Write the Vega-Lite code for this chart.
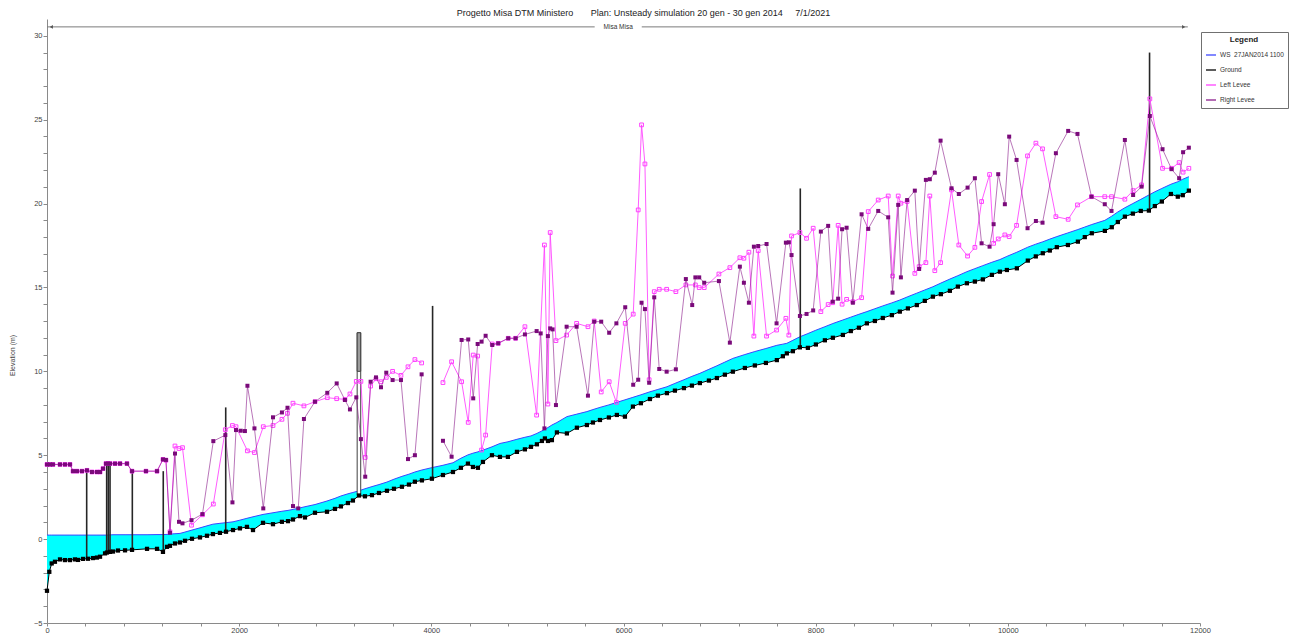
{
  "$schema": "https://vega.github.io/schema/vega-lite/v6.json",
  "autosize": {"type": "none"},
  "padding": {"left": 47, "top": 19, "right": 90, "bottom": 12},
  "width": 1153,
  "height": 604,
  "background": "white",
  "title": {
    "text": "Progetto Misa DTM Ministero\u00a0\u00a0\u00a0\u00a0\u00a0\u00a0\u00a0Plan: Unsteady simulation 20 gen - 30 gen 2014\u00a0\u00a0\u00a0\u00a0\u00a07/1/2021",
    "anchor": "middle",
    "dx": 20,
    "offset": 1,
    "fontSize": 9,
    "fontWeight": "normal",
    "font": "Liberation Sans",
    "color": "#222222"
  },
  "config": {
    "font": "Liberation Sans",
    "view": {"stroke": null},
    "axis": {
      "grid": false,
      "domainColor": "#8a8a8a",
      "tickColor": "#8a8a8a",
      "labelColor": "#444444",
      "labelFontSize": 7.5,
      "labelOverlap": false,
      "labelFlush": false,
      "tickSize": 4,
      "labelPadding": 1,
      "titleFontSize": 7,
      "titleFontWeight": "normal",
      "titleColor": "#444444"
    },
    "legend": {
      "orient": "none",
      "legendX": 1154,
      "legendY": 13,
      "strokeColor": "#707070",
      "fillColor": "white",
      "padding": 4,
      "title": "Legend",
      "titleFontSize": 8,
      "titleFontWeight": "bold",
      "titleAnchor": "middle",
      "titleColor": "#222222",
      "labelFontSize": 6.5,
      "labelOffset": 3,
      "labelColor": "#333333",
      "labelLimit": 120,
      "symbolType": "stroke",
      "symbolSize": 100,
      "symbolStrokeWidth": 1.5,
      "rowPadding": 5
    }
  },
  "datasets": {
    "gw": [
      {"s": 0, "g": -3.08, "w": 0.24}, {"s": 24, "g": -1.95, "w": 0.24}, {"s": 49, "g": -1.45, "w": 0.24},
      {"s": 83, "g": -1.35, "w": 0.24}, {"s": 135, "g": -1.21, "w": 0.24}, {"s": 187, "g": -1.25, "w": 0.24},
      {"s": 239, "g": -1.25, "w": 0.24}, {"s": 291, "g": -1.21, "w": 0.24}, {"s": 323, "g": -1.24, "w": 0.24},
      {"s": 375, "g": -1.18, "w": 0.24}, {"s": 427, "g": -1.17, "w": 0.24}, {"s": 479, "g": -1.13, "w": 0.24},
      {"s": 520, "g": -1.1, "w": 0.24}, {"s": 552, "g": -1.05, "w": 0.24}, {"s": 604, "g": -0.85, "w": 0.24},
      {"s": 624, "g": -0.8, "w": 0.24}, {"s": 656, "g": -0.76, "w": 0.25}, {"s": 687, "g": -0.74, "w": 0.26},
      {"s": 739, "g": -0.68, "w": 0.26}, {"s": 812, "g": -0.67, "w": 0.26}, {"s": 885, "g": -0.64, "w": 0.26},
      {"s": 1041, "g": -0.58, "w": 0.26}, {"s": 1145, "g": -0.58, "w": 0.27}, {"s": 1207, "g": -0.76, "w": 0.27},
      {"s": 1249, "g": -0.46, "w": 0.28}, {"s": 1280, "g": -0.4, "w": 0.3}, {"s": 1332, "g": -0.26, "w": 0.32},
      {"s": 1384, "g": -0.2, "w": 0.34}, {"s": 1436, "g": -0.1, "w": 0.42}, {"s": 1509, "g": 0.02, "w": 0.54},
      {"s": 1592, "g": 0.1, "w": 0.67}, {"s": 1665, "g": 0.2, "w": 0.79}, {"s": 1727, "g": 0.3, "w": 0.89},
      {"s": 1800, "g": 0.37, "w": 0.94}, {"s": 1863, "g": 0.44, "w": 0.98}, {"s": 1936, "g": 0.54, "w": 1.03},
      {"s": 2008, "g": 0.64, "w": 1.13}, {"s": 2081, "g": 0.73, "w": 1.24}, {"s": 2144, "g": 0.54, "w": 1.33},
      {"s": 2248, "g": 0.97, "w": 1.47}, {"s": 2352, "g": 0.89, "w": 1.57}, {"s": 2445, "g": 1.03, "w": 1.66},
      {"s": 2508, "g": 1.07, "w": 1.71}, {"s": 2560, "g": 1.17, "w": 1.77}, {"s": 2633, "g": 1.37, "w": 1.86},
      {"s": 2685, "g": 1.29, "w": 1.93}, {"s": 2789, "g": 1.57, "w": 2.06}, {"s": 2914, "g": 1.63, "w": 2.27},
      {"s": 2997, "g": 1.8, "w": 2.43}, {"s": 3059, "g": 1.95, "w": 2.57}, {"s": 3132, "g": 2.15, "w": 2.7},
      {"s": 3184, "g": 2.3, "w": 2.78}, {"s": 3247, "g": 2.6, "w": 2.88}, {"s": 3309, "g": 2.55, "w": 3.0},
      {"s": 3382, "g": 2.62, "w": 3.13}, {"s": 3455, "g": 2.75, "w": 3.25}, {"s": 3538, "g": 2.88, "w": 3.4},
      {"s": 3611, "g": 3.0, "w": 3.57}, {"s": 3694, "g": 3.12, "w": 3.74}, {"s": 3767, "g": 3.25, "w": 3.87},
      {"s": 3829, "g": 3.42, "w": 4.0}, {"s": 3902, "g": 3.5, "w": 4.12}, {"s": 4006, "g": 3.6, "w": 4.26},
      {"s": 4121, "g": 3.82, "w": 4.4}, {"s": 4225, "g": 4.0, "w": 4.55}, {"s": 4308, "g": 4.25, "w": 4.82},
      {"s": 4381, "g": 4.5, "w": 5.02}, {"s": 4433, "g": 4.3, "w": 5.12}, {"s": 4485, "g": 4.25, "w": 5.2},
      {"s": 4537, "g": 4.6, "w": 5.3}, {"s": 4631, "g": 5.0, "w": 5.5}, {"s": 4714, "g": 4.9, "w": 5.7},
      {"s": 4797, "g": 4.9, "w": 5.8}, {"s": 4891, "g": 5.2, "w": 5.95}, {"s": 4974, "g": 5.35, "w": 6.07},
      {"s": 5037, "g": 5.5, "w": 6.15}, {"s": 5099, "g": 5.65, "w": 6.3}, {"s": 5151, "g": 5.85, "w": 6.45},
      {"s": 5182, "g": 6.0, "w": 6.55}, {"s": 5214, "g": 5.85, "w": 6.65}, {"s": 5255, "g": 5.9, "w": 6.8},
      {"s": 5307, "g": 6.36, "w": 6.95}, {"s": 5411, "g": 6.3, "w": 7.3}, {"s": 5515, "g": 6.64, "w": 7.45},
      {"s": 5619, "g": 6.8, "w": 7.6}, {"s": 5682, "g": 6.95, "w": 7.72}, {"s": 5755, "g": 7.1, "w": 7.85},
      {"s": 5848, "g": 7.25, "w": 8.0}, {"s": 5931, "g": 7.4, "w": 8.15}, {"s": 6015, "g": 7.3, "w": 8.3},
      {"s": 6098, "g": 7.9, "w": 8.45}, {"s": 6181, "g": 8.1, "w": 8.6}, {"s": 6275, "g": 8.35, "w": 8.78},
      {"s": 6358, "g": 8.55, "w": 8.92}, {"s": 6452, "g": 8.7, "w": 9.08}, {"s": 6535, "g": 8.85, "w": 9.28},
      {"s": 6629, "g": 9.0, "w": 9.5}, {"s": 6712, "g": 9.15, "w": 9.7}, {"s": 6795, "g": 9.3, "w": 9.88},
      {"s": 6889, "g": 9.45, "w": 10.12}, {"s": 6972, "g": 9.6, "w": 10.33}, {"s": 7055, "g": 9.8, "w": 10.55},
      {"s": 7138, "g": 9.98, "w": 10.77}, {"s": 7263, "g": 10.2, "w": 11.0}, {"s": 7367, "g": 10.35, "w": 11.18},
      {"s": 7482, "g": 10.5, "w": 11.36}, {"s": 7596, "g": 10.67, "w": 11.55}, {"s": 7659, "g": 10.9, "w": 11.62},
      {"s": 7700, "g": 11.07, "w": 11.67}, {"s": 7763, "g": 11.2, "w": 11.85}, {"s": 7836, "g": 11.43, "w": 12.06},
      {"s": 7919, "g": 11.4, "w": 12.25}, {"s": 8002, "g": 11.6, "w": 12.45}, {"s": 8096, "g": 11.85, "w": 12.66},
      {"s": 8179, "g": 12.0, "w": 12.85}, {"s": 8283, "g": 12.17, "w": 13.06}, {"s": 8366, "g": 12.4, "w": 13.23},
      {"s": 8450, "g": 12.6, "w": 13.4}, {"s": 8533, "g": 12.86, "w": 13.56}, {"s": 8616, "g": 13.0, "w": 13.73},
      {"s": 8699, "g": 13.18, "w": 13.9}, {"s": 8793, "g": 13.35, "w": 14.08}, {"s": 8876, "g": 13.56, "w": 14.25},
      {"s": 8960, "g": 13.75, "w": 14.45}, {"s": 9053, "g": 13.95, "w": 14.66}, {"s": 9136, "g": 14.2, "w": 14.85},
      {"s": 9220, "g": 14.45, "w": 15.04}, {"s": 9303, "g": 14.6, "w": 15.26}, {"s": 9397, "g": 14.8, "w": 15.5},
      {"s": 9480, "g": 15.05, "w": 15.7}, {"s": 9574, "g": 15.25, "w": 15.94}, {"s": 9657, "g": 15.35, "w": 16.12},
      {"s": 9740, "g": 15.48, "w": 16.3}, {"s": 9834, "g": 15.75, "w": 16.5}, {"s": 9917, "g": 15.94, "w": 16.66},
      {"s": 9990, "g": 16.04, "w": 16.85}, {"s": 10094, "g": 16.14, "w": 17.1}, {"s": 10208, "g": 16.6, "w": 17.4},
      {"s": 10291, "g": 16.85, "w": 17.58}, {"s": 10364, "g": 17.04, "w": 17.72}, {"s": 10437, "g": 17.2, "w": 17.88},
      {"s": 10510, "g": 17.4, "w": 18.03}, {"s": 10625, "g": 17.53, "w": 18.25}, {"s": 10729, "g": 17.73, "w": 18.45},
      {"s": 10801, "g": 18.0, "w": 18.6}, {"s": 10874, "g": 18.23, "w": 18.75}, {"s": 11010, "g": 18.37, "w": 19.0},
      {"s": 11082, "g": 18.59, "w": 19.25}, {"s": 11145, "g": 18.9, "w": 19.5}, {"s": 11218, "g": 19.22, "w": 19.75},
      {"s": 11301, "g": 19.4, "w": 20.0}, {"s": 11384, "g": 19.56, "w": 20.25}, {"s": 11468, "g": 19.58, "w": 20.51},
      {"s": 11530, "g": 19.85, "w": 20.7}, {"s": 11603, "g": 20.12, "w": 20.9}, {"s": 11697, "g": 20.57, "w": 21.15},
      {"s": 11769, "g": 20.41, "w": 21.3}, {"s": 11821, "g": 20.5, "w": 21.45}, {"s": 11884, "g": 20.77, "w": 21.6}
    ],
    "lev": [
      {"s": 0, "l": 4.45, "r": 4.45, "k": 1}, {"s": 31, "l": 4.45, "r": 4.45, "k": 1}, {"s": 62, "l": 4.45, "r": 4.45, "k": 1},
      {"s": 135, "l": 4.45, "r": 4.45, "k": 1}, {"s": 187, "l": 4.45, "r": 4.45, "k": 1}, {"s": 239, "l": 4.45, "r": 4.45, "k": 1},
      {"s": 271, "l": 4.05, "r": 4.05, "k": 1}, {"s": 312, "l": 4.05, "r": 4.05, "k": 1}, {"s": 364, "l": 4.05, "r": 4.05, "k": 1},
      {"s": 416, "l": 4.1, "r": 4.1, "k": 1}, {"s": 468, "l": 4.0, "r": 4.0, "k": 1}, {"s": 520, "l": 4.0, "r": 4.0, "k": 1},
      {"s": 552, "l": 4.0, "r": 4.0, "k": 1}, {"s": 583, "l": 4.2, "r": 4.2, "k": 1}, {"s": 614, "l": 4.5, "r": 4.5, "k": 1},
      {"s": 635, "l": 4.5, "r": 4.5, "k": 1}, {"s": 656, "l": 4.5, "r": 4.5, "k": 1}, {"s": 708, "l": 4.5, "r": 4.5, "k": 1},
      {"s": 760, "l": 4.5, "r": 4.5, "k": 1}, {"s": 832, "l": 4.5, "r": 4.5, "k": 1}, {"s": 885, "l": 4.05, "r": 4.05, "k": 1},
      {"s": 1030, "l": 4.05, "r": 4.05, "k": 1}, {"s": 1145, "l": 4.05, "r": 4.05, "k": 1}, {"s": 1207, "l": 4.75, "r": 4.75, "k": 1},
      {"s": 1238, "l": 4.7, "r": 4.72, "k": 1}, {"s": 1280, "l": 0.44, "r": 0.38, "k": 1}, {"s": 1332, "l": 5.55, "r": 5.1, "k": 1},
      {"s": 1374, "l": 5.4, "r": 1.03, "k": 1}, {"s": 1410, "l": 5.45, "r": 0.94, "k": 1}, {"s": 1504, "l": 0.83, "r": 1.13, "k": 1},
      {"s": 1618, "l": 1.45, "r": 1.49, "k": 1}, {"s": 1731, "l": 2.09, "r": 5.84, "k": 1}, {"s": 1856, "l": 6.52, "r": 6.2, "k": 1},
      {"s": 1930, "l": 6.77, "r": 2.19, "k": 1}, {"s": 1967, "l": 6.7, "r": 6.5, "k": 1}, {"s": 2016, "l": null, "r": 6.46, "k": 1},
      {"s": 2060, "l": null, "r": 6.44, "k": 1}, {"s": 2086, "l": 5.26, "r": 9.14, "k": 1}, {"s": 2159, "l": 5.16, "r": 6.6, "k": 1},
      {"s": 2251, "l": 6.7, "r": 1.83, "k": 1}, {"s": 2352, "l": 6.77, "r": 7.26, "k": 1}, {"s": 2445, "l": 7.14, "r": 7.55, "k": 1},
      {"s": 2503, "l": 7.5, "r": 7.83, "k": 1}, {"s": 2560, "l": 8.1, "r": 1.97, "k": 1}, {"s": 2615, "l": null, "r": 1.83, "k": 1},
      {"s": 2674, "l": 7.94, "r": 7.16, "k": 1}, {"s": 2789, "l": 8.19, "r": 8.19, "k": 1}, {"s": 2917, "l": 8.43, "r": 8.72, "k": 1},
      {"s": 3015, "l": 8.37, "r": 9.28, "k": 1}, {"s": 3101, "l": 8.33, "r": 8.29, "k": 1}, {"s": 3153, "l": 8.65, "r": 7.73, "k": 1},
      {"s": 3219, "l": 9.4, "r": 8.45, "k": 1}, {"s": 3267, "l": 9.4, "r": 5.96, "k": 1}, {"s": 3312, "l": 4.87, "r": 3.72, "k": 1},
      {"s": 3368, "l": 9.12, "r": 9.38, "k": 1}, {"s": 3424, "l": 9.56, "r": 9.64, "k": 1}, {"s": 3476, "l": 9.38, "r": 9.05, "k": 1},
      {"s": 3531, "l": 9.64, "r": 9.92, "k": 1}, {"s": 3597, "l": 10.0, "r": 9.48, "k": 1}, {"s": 3684, "l": 9.76, "r": 9.48, "k": 1},
      {"s": 3757, "l": 10.27, "r": 4.77, "k": 1}, {"s": 3829, "l": 10.7, "r": 5.0, "k": 1}, {"s": 3899, "l": 10.5, "r": 9.82, "k": 1},
      {"s": 4121, "l": 9.33, "r": 5.86, "k": 2}, {"s": 4211, "l": 10.57, "r": 4.91, "k": 2}, {"s": 4315, "l": 9.38, "r": 11.87, "k": 2},
      {"s": 4384, "l": 6.96, "r": 11.9, "k": 2}, {"s": 4436, "l": 10.97, "r": 8.39, "k": 2}, {"s": 4482, "l": 10.91, "r": 11.63, "k": 2},
      {"s": 4523, "l": 5.31, "r": 11.77, "k": 2}, {"s": 4565, "l": 6.2, "r": 12.12, "k": 2}, {"s": 4634, "l": 11.63, "r": 11.57, "k": 2},
      {"s": 4696, "l": 11.67, "r": 11.67, "k": 2}, {"s": 4800, "l": 11.97, "r": 11.97, "k": 2}, {"s": 4877, "l": 11.97, "r": 11.97, "k": 2},
      {"s": 4974, "l": 12.66, "r": 12.2, "k": 2}, {"s": 5096, "l": 7.39, "r": 12.4, "k": 2}, {"s": 5138, "l": null, "r": 12.26, "k": 2},
      {"s": 5177, "l": 17.53, "r": 6.6, "k": 2}, {"s": 5213, "l": 8.05, "r": 12.1, "k": 2}, {"s": 5237, "l": 18.27, "r": 12.56, "k": 2},
      {"s": 5262, "l": null, "r": 12.5, "k": 2}, {"s": 5297, "l": 11.83, "r": 7.99, "k": 2}, {"s": 5408, "l": 12.16, "r": 12.66, "k": 2},
      {"s": 5512, "l": 12.86, "r": 12.66, "k": 2}, {"s": 5630, "l": 12.66, "r": 8.55, "k": 2}, {"s": 5695, "l": 13.0, "r": 12.96, "k": 2},
      {"s": 5768, "l": 8.77, "r": 12.96, "k": 2}, {"s": 5851, "l": 9.38, "r": 12.3, "k": 2}, {"s": 5926, "l": 8.15, "r": 12.86, "k": 2},
      {"s": 6018, "l": 12.86, "r": 13.82, "k": 2}, {"s": 6101, "l": 13.41, "r": 9.2, "k": 2}, {"s": 6153, "l": 19.62, "r": 9.5, "k": 2},
      {"s": 6188, "l": 24.69, "r": 14.09, "k": 2}, {"s": 6223, "l": 22.36, "r": 13.71, "k": 2}, {"s": 6267, "l": 9.5, "r": 9.32, "k": 2},
      {"s": 6320, "l": 14.75, "r": 14.41, "k": 2}, {"s": 6372, "l": 14.89, "r": 10.14, "k": 2}, {"s": 6449, "l": 14.89, "r": 9.98, "k": 2},
      {"s": 6545, "l": 14.75, "r": 10.12, "k": 2}, {"s": 6649, "l": 15.15, "r": 15.5, "k": 2}, {"s": 6715, "l": null, "r": 13.95, "k": 2},
      {"s": 6748, "l": 15.15, "r": 15.6, "k": 2}, {"s": 6788, "l": 14.99, "r": 15.6, "k": 2}, {"s": 6840, "l": 14.99, "r": 15.28, "k": 2},
      {"s": 6993, "l": 15.8, "r": 15.38, "k": 2}, {"s": 7107, "l": 16.18, "r": 11.71, "k": 2}, {"s": 7211, "l": 16.77, "r": 16.24, "k": 2},
      {"s": 7253, "l": 16.74, "r": 15.28, "k": 2}, {"s": 7305, "l": 17.1, "r": 14.09, "k": 2}, {"s": 7357, "l": 12.1, "r": 17.43, "k": 2},
      {"s": 7402, "l": 17.19, "r": 17.47, "k": 2}, {"s": 7489, "l": 12.1, "r": 17.59, "k": 2}, {"s": 7593, "l": 12.46, "r": 12.86, "k": 2},
      {"s": 7690, "l": 13.16, "r": 17.67, "k": 2}, {"s": 7721, "l": 12.16, "r": 17.69, "k": 2}, {"s": 7749, "l": 18.07, "r": 16.93, "k": 2},
      {"s": 7836, "l": 18.27, "r": 13.3, "k": 2}, {"s": 7905, "l": 17.93, "r": 13.42, "k": 2}, {"s": 7974, "l": 18.53, "r": 13.63, "k": 2},
      {"s": 8054, "l": 13.56, "r": 18.33, "k": 2}, {"s": 8130, "l": 13.98, "r": 18.67, "k": 2}, {"s": 8177, "l": 14.09, "r": 14.15, "k": 2},
      {"s": 8234, "l": 18.7, "r": 14.33, "k": 2}, {"s": 8275, "l": 14.0, "r": 18.47, "k": 2}, {"s": 8322, "l": 14.29, "r": 18.56, "k": 2},
      {"s": 8387, "l": 14.15, "r": 14.09, "k": 2}, {"s": 8478, "l": 14.39, "r": 19.36, "k": 2}, {"s": 8547, "l": 19.52, "r": 18.49, "k": 2},
      {"s": 8651, "l": 20.21, "r": 19.56, "k": 2}, {"s": 8755, "l": 20.45, "r": 19.18, "k": 2}, {"s": 8800, "l": 15.68, "r": 14.69, "k": 2},
      {"s": 8859, "l": 20.45, "r": 19.92, "k": 2}, {"s": 8887, "l": 20.02, "r": 15.6, "k": 2}, {"s": 8952, "l": 20.12, "r": 20.21, "k": 2},
      {"s": 9032, "l": 15.84, "r": 20.77, "k": 2}, {"s": 9077, "l": 16.24, "r": 16.1, "k": 2}, {"s": 9147, "l": 16.48, "r": 21.41, "k": 2},
      {"s": 9188, "l": 20.45, "r": 21.45, "k": 2}, {"s": 9240, "l": 16.0, "r": 21.84, "k": 2}, {"s": 9300, "l": 16.48, "r": 23.75, "k": 2},
      {"s": 9414, "l": 20.81, "r": 20.91, "k": 2}, {"s": 9490, "l": 17.53, "r": 20.57, "k": 2}, {"s": 9581, "l": 16.87, "r": 20.95, "k": 2},
      {"s": 9657, "l": 17.39, "r": 21.51, "k": 2}, {"s": 9727, "l": 20.12, "r": 17.63, "k": 2}, {"s": 9810, "l": 21.73, "r": 17.43, "k": 2},
      {"s": 9852, "l": 17.63, "r": 18.77, "k": 2}, {"s": 9900, "l": 17.89, "r": 21.75, "k": 2}, {"s": 9969, "l": 18.13, "r": 19.96, "k": 2},
      {"s": 10014, "l": 18.03, "r": 23.99, "k": 2}, {"s": 10091, "l": 18.7, "r": 22.6, "k": 2}, {"s": 10205, "l": 22.84, "r": 18.53, "k": 2},
      {"s": 10292, "l": 23.6, "r": 18.96, "k": 2}, {"s": 10361, "l": 23.26, "r": 18.86, "k": 2}, {"s": 10500, "l": 19.22, "r": 23.0, "k": 2},
      {"s": 10628, "l": 19.06, "r": 24.33, "k": 2}, {"s": 10725, "l": 19.92, "r": 24.15, "k": 2}, {"s": 10871, "l": 20.41, "r": 20.41, "k": 2},
      {"s": 11009, "l": 20.41, "r": 19.96, "k": 2}, {"s": 11079, "l": 20.41, "r": 19.56, "k": 2}, {"s": 11218, "l": 20.26, "r": 23.79, "k": 2},
      {"s": 11304, "l": 20.77, "r": 20.51, "k": 2}, {"s": 11392, "l": 21.11, "r": 21.01, "k": 2}, {"s": 11478, "l": 26.24, "r": 25.22, "k": 2},
      {"s": 11610, "l": 22.1, "r": 23.24, "k": 2}, {"s": 11704, "l": 22.1, "r": 22.05, "k": 2}, {"s": 11783, "l": 22.44, "r": 21.51, "k": 2},
      {"s": 11824, "l": 21.87, "r": 23.06, "k": 2}, {"s": 11884, "l": 22.1, "r": 23.33, "k": 2}
    ],
    "structures": [
      {"s": 413, "b": -1.17, "t": 4.1}, {"s": 621, "b": -0.82, "t": 4.5}, {"s": 638, "b": -0.8, "t": 4.5},
      {"s": 656, "b": -0.76, "t": 4.5}, {"s": 888, "b": -0.64, "t": 4.05}, {"s": 1210, "b": -0.76, "t": 4.05},
      {"s": 1860, "b": 0.44, "t": 7.85}, {"s": 4013, "b": 3.6, "t": 13.9}, {"s": 7840, "b": 11.43, "t": 20.9},
      {"s": 11475, "b": 19.58, "t": 29.0}
    ],
    "culvert": [
      {"s0": 3228, "s1": 3265, "b": 2.62, "t": 12.3, "deck": 10.0}
    ],
    "reach": [
      {"a": 0, "b": 5700, "y": 30.53},
      {"a": 6190, "b": 11873, "y": 30.53}
    ],
    "reachName": [
      {"s": 5945, "y": 30.53, "name": "Misa Misa"}
    ],
    "reachEnds": [
      {"s": 45, "y": 30.53, "side": "up"},
      {"s": 11830, "y": 30.53, "side": "down"}
    ]
  },
  "layer": [
    {
      "data": {"name": "gw"},
      "mark": {"type": "area", "color": "#00ffff", "opacity": 1},
      "encoding": {
        "x": {
          "field": "s", "type": "quantitative", "title": null,
          "scale": {"domain": [0, 12000], "nice": false, "zero": false},
          "axis": {
            "values": [0, 400, 800, 1200, 1600, 2000, 2400, 2800, 3200, 3600, 4000, 4400, 4800, 5200, 5600, 6000, 6400, 6800, 7200, 7600, 8000, 8400, 8800, 9200, 9600, 10000, 10400, 10800, 11200, 11600, 12000],
            "tickCount": 200,
            "labelExpr": "datum.value % 2000 === 0 ? format(datum.value, 'd') : ''",
            "labelOverlap": false,
            "tickSize": 3,
            "labelPadding": 0
          }
        },
        "y": {
          "field": "w", "type": "quantitative", "title": "Elevation (m)",
          "scale": {"domain": [-5, 31], "nice": false, "zero": false},
          "axis": {
            "values": [-5, -4, -3, -2, -1, 0, 1, 2, 3, 4, 5, 6, 7, 8, 9, 10, 11, 12, 13, 14, 15, 16, 17, 18, 19, 20, 21, 22, 23, 24, 25, 26, 27, 28, 29, 30],
            "tickCount": 200,
            "labelExpr": "datum.value % 5 === 0 ? format(datum.value, 'd') : ''",
            "labelOverlap": false,
            "titleX": -32,
            "titleY": 336
          }
        },
        "y2": {"field": "g"}
      }
    },
    {
      "data": {"name": "gw"},
      "mark": {"type": "line", "strokeWidth": 1},
      "encoding": {
        "x": {"field": "s", "type": "quantitative", "title": null},
        "y": {"field": "w", "type": "quantitative", "title": "Elevation (m)"},
        "color": {
          "datum": "WS\u00a0\u00a027JAN2014 1100",
          "type": "nominal",
          "scale": {
            "domain": ["WS\u00a0\u00a027JAN2014 1100", "Ground", "Left Levee", "Right Levee"],
            "range": ["#3c46ff", "#000000", "#ff40ff", "#8a1a8a"]
          },
          "legend": {"title": "Legend"}
        }
      }
    },
    {
      "data": {"name": "structures"},
      "mark": {"type": "rule", "color": "#262626", "strokeWidth": 1.6},
      "encoding": {
        "x": {"field": "s", "type": "quantitative", "title": null},
        "y": {"field": "b", "type": "quantitative", "title": "Elevation (m)"},
        "y2": {"field": "t"}
      }
    },
    {
      "data": {"name": "culvert"},
      "mark": {"type": "rect", "fill": "white", "stroke": "#404040", "strokeWidth": 1},
      "encoding": {
        "x": {"field": "s0", "type": "quantitative", "title": null},
        "x2": {"field": "s1"},
        "y": {"field": "b", "type": "quantitative", "title": "Elevation (m)"},
        "y2": {"field": "t"}
      }
    },
    {
      "data": {"name": "culvert"},
      "mark": {"type": "rect", "fill": "#9c9c9c", "stroke": "#404040", "strokeWidth": 1},
      "encoding": {
        "x": {"field": "s0", "type": "quantitative", "title": null},
        "x2": {"field": "s1"},
        "y": {"field": "deck", "type": "quantitative", "title": "Elevation (m)"},
        "y2": {"field": "t"}
      }
    },
    {
      "data": {"name": "lev"},
      "transform": [{"filter": "isValid(datum.l)"}],
      "mark": {"type": "line", "strokeWidth": 1, "opacity": 0.85},
      "encoding": {
        "x": {"field": "s", "type": "quantitative", "title": null},
        "y": {"field": "l", "type": "quantitative", "title": "Elevation (m)"},
        "detail": {"field": "k", "type": "nominal"},
        "color": {"datum": "Left Levee", "type": "nominal"}
      }
    },
    {
      "data": {"name": "lev"},
      "transform": [{"filter": "isValid(datum.l)"}],
      "mark": {"type": "point", "shape": "square", "filled": false, "color": "#ff40ff", "size": 14, "strokeWidth": 1, "opacity": 1},
      "encoding": {
        "x": {"field": "s", "type": "quantitative", "title": null},
        "y": {"field": "l", "type": "quantitative", "title": "Elevation (m)"}
      }
    },
    {
      "data": {"name": "lev"},
      "transform": [{"filter": "isValid(datum.r)"}],
      "mark": {"type": "line", "strokeWidth": 1, "opacity": 0.6},
      "encoding": {
        "x": {"field": "s", "type": "quantitative", "title": null},
        "y": {"field": "r", "type": "quantitative", "title": "Elevation (m)"},
        "detail": {"field": "k", "type": "nominal"},
        "color": {"datum": "Right Levee", "type": "nominal"}
      }
    },
    {
      "data": {"name": "lev"},
      "transform": [{"filter": "isValid(datum.r)"}],
      "mark": {"type": "point", "shape": "square", "filled": true, "color": "#7a0a7a", "size": 16, "opacity": 1},
      "encoding": {
        "x": {"field": "s", "type": "quantitative", "title": null},
        "y": {"field": "r", "type": "quantitative", "title": "Elevation (m)"}
      }
    },
    {
      "data": {"name": "gw"},
      "mark": {"type": "line", "strokeWidth": 1},
      "encoding": {
        "x": {"field": "s", "type": "quantitative", "title": null},
        "y": {"field": "g", "type": "quantitative", "title": "Elevation (m)"},
        "color": {"datum": "Ground", "type": "nominal"}
      }
    },
    {
      "data": {"name": "gw"},
      "mark": {"type": "point", "shape": "square", "filled": true, "color": "#000000", "size": 18, "opacity": 1},
      "encoding": {
        "x": {"field": "s", "type": "quantitative", "title": null},
        "y": {"field": "g", "type": "quantitative", "title": "Elevation (m)"}
      }
    },
    {
      "data": {"name": "reach"},
      "mark": {"type": "rule", "color": "#7a7a7a", "strokeWidth": 1},
      "encoding": {
        "x": {"field": "a", "type": "quantitative", "title": null},
        "x2": {"field": "b"},
        "y": {"field": "y", "type": "quantitative", "title": "Elevation (m)"}
      }
    },
    {
      "data": {"name": "reachName"},
      "mark": {"type": "text", "fontSize": 6.5, "color": "#333333", "baseline": "middle", "align": "center"},
      "encoding": {
        "x": {"field": "s", "type": "quantitative", "title": null},
        "y": {"field": "y", "type": "quantitative", "title": "Elevation (m)"},
        "text": {"field": "name"}
      }
    },
    {
      "data": {"name": "reachEnds"},
      "mark": {"type": "point", "filled": true, "color": "#555555", "size": 14, "opacity": 1},
      "encoding": {
        "x": {"field": "s", "type": "quantitative", "title": null},
        "y": {"field": "y", "type": "quantitative", "title": "Elevation (m)"},
        "shape": {
          "field": "side", "type": "nominal",
          "scale": {"domain": ["up", "down"], "range": ["triangle-left", "triangle-right"]},
          "legend": null
        }
      }
    }
  ]
}
